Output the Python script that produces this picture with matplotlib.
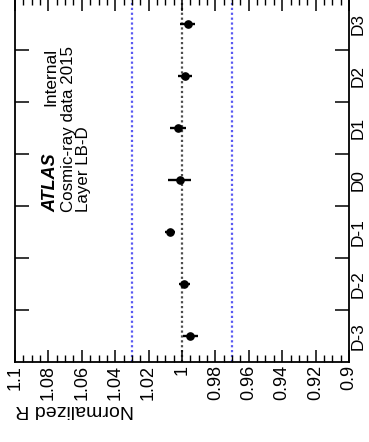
import matplotlib
matplotlib.use("Agg")
import matplotlib.pyplot as plt
from matplotlib.ticker import MultipleLocator, FixedLocator, FixedFormatter, FuncFormatter

plt.rcParams['font.family'] = ['Liberation Sans', 'DejaVu Sans']

# Normalized response per cell of layer LB-D
cells = ["D-3", "D-2", "D-1", "D0", "D1", "D2", "D3"]
norm_r = [0.9952, 0.9986, 1.0069, 1.0014, 1.0024, 0.9983, 0.9967]
norm_r_err = [0.0045, 0.0032, 0.0030, 0.0070, 0.0047, 0.0040, 0.0042]
band_lo, band_hi = 0.97, 1.03

W, H = 369, 442
fig = plt.figure(figsize=(W / 100, H / 100), dpi=100)
ax = fig.add_axes([15 / W, 1 - 362 / H, 334 / W, 364 / H])

pos = list(range(len(cells)))

# reference lines
ax.axvline(1.0, color='0.3', ls=(0, (1, 1.2)), lw=1.6, zorder=1)
for v in (band_lo, band_hi):
    ax.axvline(v, color=(0.35, 0.35, 0.95), ls=(0, (1, 1.2)), lw=1.6, zorder=1)

ax.errorbar(norm_r, pos, xerr=norm_r_err, fmt='o', color='black',
            ms=5.2, elinewidth=1.7, capsize=0, zorder=3)

# Normalized R axis (runs from 1.1 on the left to 0.9 on the right)
ax.set_xlim(1.1, 0.9)
ax.xaxis.set_major_locator(MultipleLocator(0.02))
ax.xaxis.set_minor_locator(MultipleLocator(0.005))
ax.xaxis.set_major_formatter(FuncFormatter(lambda v, p: f"{v:g}"))
ax.tick_params(axis='x', which='major', direction='in', length=9, width=1.1,
               top=True, bottom=True, labelsize=13, labelrotation=90, pad=2)
ax.tick_params(axis='x', which='minor', direction='in', length=5, width=1.0,
               top=True, bottom=True)

# Cell axis: ticks at bin edges, labels at bin centres
ax.set_ylim(-0.5, len(cells) - 0.5)
ax.yaxis.set_major_locator(FixedLocator([i + 0.5 for i in range(len(cells) - 1)]))
ax.yaxis.set_major_formatter(FuncFormatter(lambda v, p: ""))
ax.yaxis.set_minor_locator(FixedLocator(pos))
ax.yaxis.set_minor_formatter(FixedFormatter(cells))
ax.tick_params(axis='y', which='major', direction='in', length=10, width=1.1,
               left=True, right=True)
ax.tick_params(axis='y', which='minor', length=0, left=False, right=True,
               labelleft=False, labelright=True, labelsize=12.4,
               labelrotation=90, pad=1.5)
for lab in ax.yaxis.get_minorticklabels():
    lab.set_va('center')

for s in ax.spines.values():
    s.set_linewidth(1.3)

def px(x, y):
    return x / W, 1 - y / H

fig.text(*px(15, 405), "Normalized R", rotation=180, rotation_mode='anchor',
         ha='right', va='baseline', fontsize=14)

fig.text(*px(55, 212), "ATLAS", rotation=90, rotation_mode='anchor',
         ha='left', va='baseline', fontsize=13, fontweight='bold', style='italic')
fig.text(*px(55, 106), "Internal", rotation=90, rotation_mode='anchor',
         ha='left', va='baseline', fontsize=12.5)
fig.text(*px(73, 212), "Cosmic-ray data 2015", rotation=90, rotation_mode='anchor',
         ha='left', va='baseline', fontsize=12.2)
fig.text(*px(88, 212), "Layer LB-D", rotation=90, rotation_mode='anchor',
         ha='left', va='baseline', fontsize=12.2)

fig.savefig("out.png", dpi=100)
